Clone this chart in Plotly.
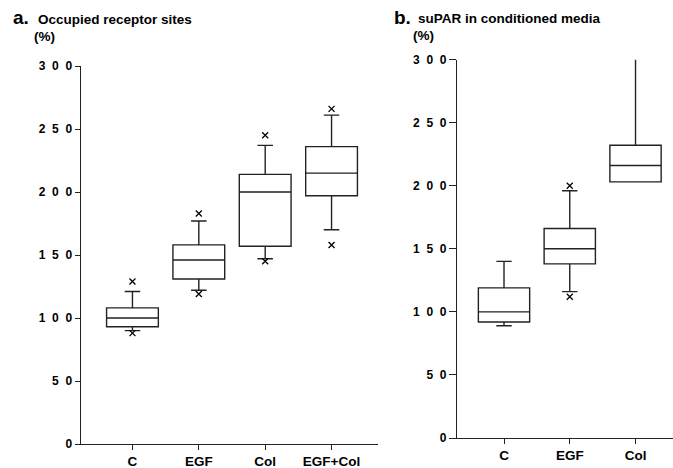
import plotly.graph_objects as go

# ---- data ----
left_categories = ["C", "EGF", "Col", "EGF+Col"]
left_q1 = [93, 131, 157, 197]
left_median = [100, 146, 200, 215]
left_q3 = [108, 158, 214, 236]
left_lower = [90, 122, 147, 170]
left_upper = [121, 177, 237, 261]
left_out_cat = ["C", "C", "EGF", "EGF", "Col", "Col", "EGF+Col", "EGF+Col"]
left_out_val = [129, 88, 183, 119, 245, 145, 266, 158]

right_categories = ["C", "EGF", "Col"]
right_q1 = [92, 138, 203]
right_median = [100, 150, 216]
right_q3 = [119, 166, 232]
right_lower = [89, 116, 203]
right_upper = [140, 196, 300]
right_out_cat = ["EGF", "EGF"]
right_out_val = [200, 112]

y_ticks = [0, 50, 100, 150, 200, 250, 300]
y_ticktext = ["\u2007".join(str(v)) for v in y_ticks]

W, H = 673, 468
FONT = "Liberation Sans, Arial, Helvetica, sans-serif"
LINE = "#222222"

fig = go.Figure()

def add_boxes(cats, q1, med, q3, lo, up, xa, ya, nocap=()):
    for i, c in enumerate(cats):
        fig.add_trace(go.Box(
            x=[c], q1=[q1[i]], median=[med[i]], q3=[q3[i]],
            lowerfence=[lo[i]], upperfence=[up[i]],
            width=0.78, whiskerwidth=0 if c in nocap else 0.3,
            fillcolor="white", line=dict(color=LINE, width=1.4),
            boxpoints=False, showlegend=False, hoverinfo="skip",
            xaxis=xa, yaxis=ya))

def add_outliers(cats, vals, xa, ya):
    fig.add_trace(go.Scatter(
        x=cats, y=vals, mode="markers",
        marker=dict(symbol="x-thin", size=6, color="black",
                    line=dict(color="black", width=1.3)),
        showlegend=False, hoverinfo="skip", xaxis=xa, yaxis=ya))

add_boxes(left_categories, left_q1, left_median, left_q3, left_lower, left_upper, "x", "y")
add_outliers(left_out_cat, left_out_val, "x", "y")
add_boxes(right_categories, right_q1, right_median, right_q3, right_lower, right_upper,
          "x2", "y2", nocap=("Col",))
add_outliers(right_out_cat, right_out_val, "x2", "y2")

ytickfont = dict(family=FONT, size=12, color="black", weight="bold")
xtickfont = dict(family=FONT, size=13.5, color="black", weight="bold")

def xaxis(cats, rng, dom, anchor):
    return dict(type="category", categoryorder="array", categoryarray=cats,
                range=rng, domain=dom, anchor=anchor, automargin=False,
                showline=True, linecolor=LINE, linewidth=1.3,
                ticks="outside", ticklen=5, tickcolor=LINE, tickwidth=1.2,
                ticklabelstandoff=0,
                showgrid=False, zeroline=False, tickfont=xtickfont)

def yaxis(dom, anchor, ticklen):
    return dict(range=[0, 300], domain=dom, anchor=anchor, automargin=False,
                tickvals=y_ticks, ticktext=y_ticktext,
                showline=True, linecolor=LINE, linewidth=1.3,
                ticks="outside", ticklen=ticklen, tickcolor=LINE, tickwidth=1.2,
                showgrid=False, zeroline=False, tickfont=ytickfont)

fig.update_layout(
    width=W, height=H,
    margin=dict(l=0, r=0, t=0, b=0, autoexpand=False),
    paper_bgcolor="white", plot_bgcolor="white",
    xaxis=xaxis(left_categories, [-0.78, 3.7], [80.7 / W, 378 / W], "y"),
    yaxis=yaxis([(H - 444) / H, (H - 66) / H], "x", 5),
    xaxis2=xaxis(right_categories, [-0.715, 2.57], [457 / W, 1.0], "y2"),
    yaxis2=yaxis([(H - 438) / H, (H - 59.5) / H], "x2", 7),
)

def ann(text, px, py, size):
    fig.add_annotation(text=text, x=px / W, y=1 - py / H, xref="paper", yref="paper",
                       xanchor="left", yanchor="middle", showarrow=False,
                       font=dict(family=FONT, size=size, color="black", weight="bold"))

ann("a.", 11, 18, 19)
ann("Occupied receptor sites", 36, 20, 13.5)
ann("(%)", 32, 37, 13.5)
ann("b.", 392, 18, 19)
ann("suPAR in conditioned media", 416, 19, 13.5)
ann("(%)", 411, 36, 13.5)

fig.write_html("out.html")
